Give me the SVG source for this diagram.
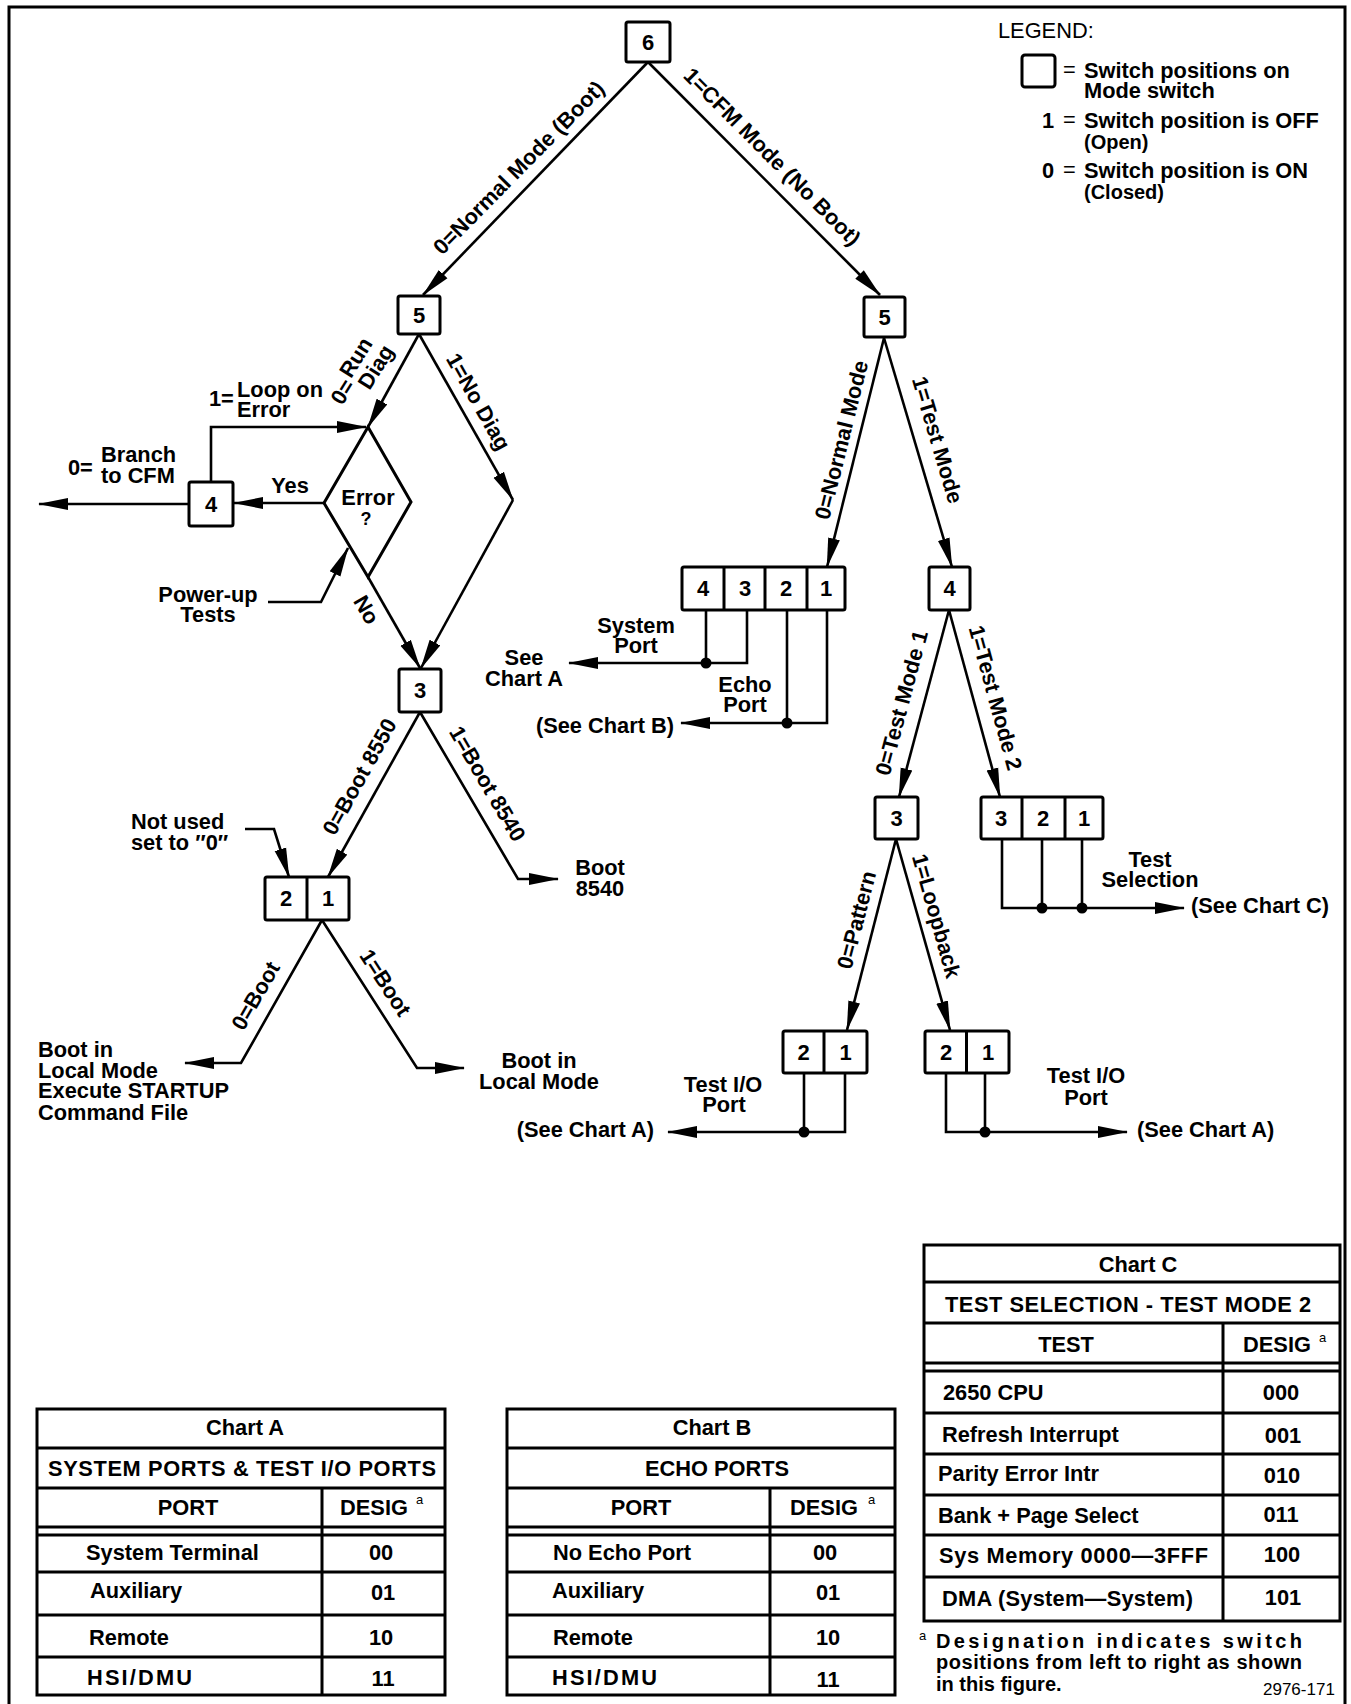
<svg xmlns="http://www.w3.org/2000/svg" width="1351" height="1704" viewBox="0 0 1351 1704">
<defs>
<style>
.ln{stroke:#000;stroke-width:2.6;fill:none}
.bx{fill:#fff;stroke:#000;stroke-width:3}
.tl{stroke:#000;stroke-width:3;fill:none}
.t{font-family:"Liberation Sans",Arial,Helvetica,sans-serif;font-weight:bold;font-size:21.8px;fill:#000}
.r{font-weight:normal}
.m{text-anchor:middle}
.e{text-anchor:end}
.num{font-size:22px;text-anchor:middle}
.sup{font-size:13px;font-weight:normal}
</style>
<marker id="ah" markerUnits="userSpaceOnUse" markerWidth="30" markerHeight="13" viewBox="0 0 30 13" refX="29" refY="6.5" orient="auto">
<path d="M0,0.5 L30,6.5 L0,12.5 z" fill="#000"/>
</marker>
</defs>
<rect width="1351" height="1704" fill="#fff"/>
<path id="frame" d="M9,1704 V7 H1345 V1704" class="tl"/>

<g id="connectors">
<line class="ln" x1="648" y1="62" x2="423" y2="295" marker-end="url(#ah)"/>
<line class="ln" x1="648" y1="62" x2="880" y2="295" marker-end="url(#ah)"/>
<line class="ln" x1="419" y1="334" x2="368" y2="427" marker-end="url(#ah)"/>
<line class="ln" x1="419" y1="334" x2="513" y2="500" marker-end="url(#ah)"/>
<line class="ln" x1="513" y1="500" x2="421" y2="668" marker-end="url(#ah)"/>
<line class="ln" x1="368" y1="577" x2="420" y2="668" marker-end="url(#ah)"/>
<line class="ln" x1="324" y1="503" x2="234" y2="503" marker-end="url(#ah)"/>
<line class="ln" x1="189" y1="504" x2="39" y2="504" marker-end="url(#ah)"/>
<polyline class="ln" points="211,482 211,427 366,427" marker-end="url(#ah)"/>
<polyline class="ln" points="268,602 321,602 348,548" marker-end="url(#ah)"/>
<line class="ln" x1="420" y1="712" x2="328" y2="877" marker-end="url(#ah)"/>
<polyline class="ln" points="420,712 518,879 558,879" marker-end="url(#ah)"/>
<polyline class="ln" points="245,829 274,829 289,877" marker-end="url(#ah)"/>
<polyline class="ln" points="322,920 241,1063 185,1063" marker-end="url(#ah)"/>
<polyline class="ln" points="322,920 417,1068 464,1068" marker-end="url(#ah)"/>
<line class="ln" x1="884" y1="338" x2="827" y2="567" marker-end="url(#ah)"/>
<line class="ln" x1="884" y1="338" x2="952" y2="567" marker-end="url(#ah)"/>
<line class="ln" x1="706" y1="610" x2="706" y2="663"/>
<polyline class="ln" points="747,610 747,663 569,663" marker-end="url(#ah)"/>
<circle cx="706" cy="663" r="5.5"/>
<line class="ln" x1="787" y1="610" x2="787" y2="723"/>
<polyline class="ln" points="827,610 827,723 681,723" marker-end="url(#ah)"/>
<circle cx="787" cy="723" r="5.5"/>
<line class="ln" x1="949" y1="610" x2="899" y2="797" marker-end="url(#ah)"/>
<line class="ln" x1="949" y1="610" x2="1000" y2="797" marker-end="url(#ah)"/>
<polyline class="ln" points="1002,839 1002,908 1184,908" marker-end="url(#ah)"/>
<line class="ln" x1="1042" y1="839" x2="1042" y2="908"/>
<line class="ln" x1="1082" y1="839" x2="1082" y2="908"/>
<circle cx="1042" cy="908" r="5.5"/>
<circle cx="1082" cy="908" r="5.5"/>
<line class="ln" x1="896" y1="839" x2="847" y2="1030" marker-end="url(#ah)"/>
<line class="ln" x1="896" y1="839" x2="950" y2="1030" marker-end="url(#ah)"/>
<line class="ln" x1="804" y1="1073" x2="804" y2="1132"/>
<polyline class="ln" points="845,1073 845,1132 668,1132" marker-end="url(#ah)"/>
<circle cx="804" cy="1132" r="5.5"/>
<polyline class="ln" points="946,1073 946,1132 1127,1132" marker-end="url(#ah)"/>
<line class="ln" x1="985" y1="1073" x2="985" y2="1132"/>
<circle cx="985" cy="1132" r="5.5"/>
</g>

<g id="edge-labels" class="t">
<text class="m" transform="translate(519,168) rotate(-45.4)" y="7">0=Normal Mode (Boot)</text>
<text class="m" transform="translate(772,157) rotate(45.2)" y="7">1=CFM Mode (No Boot)</text>
<g transform="translate(343,392) rotate(-58)">
<text class="m" y="7">0=</text>
<text x="15" y="0">Run</text>
<text x="15" y="22">Diag</text>
</g>
<text class="m" transform="translate(478,402) rotate(60.5)" y="7">1=No Diag</text>
<text class="m" transform="translate(366,610) rotate(60)" y="7">No</text>
<text class="m" transform="translate(360,777) rotate(-61)" y="7">0=Boot 8550</text>
<text class="m" transform="translate(487,784) rotate(59.7)" y="7">1=Boot 8540</text>
<text class="m" transform="translate(256,996) rotate(-60)" y="7">0=Boot</text>
<text class="m" transform="translate(385,983) rotate(57)" y="7">1=Boot</text>
<text class="m" transform="translate(842,440) rotate(-76)" y="7">0=Normal Mode</text>
<text class="m" transform="translate(937,440) rotate(73.5)" y="7">1=Test Mode</text>
<text class="m" transform="translate(902,703) rotate(-75)" y="7">0=Test Mode 1</text>
<text class="m" transform="translate(995,698) rotate(74.7)" y="7">1=Test Mode 2</text>
<text class="m" transform="translate(857,920) rotate(-75.6)" y="7">0=Pattern</text>
<text class="m" transform="translate(936,916) rotate(74.2)" y="7">1=Loopback</text>
<text class="m" x="290" y="493">Yes</text>
<text x="209" y="406">1=</text>
<text x="237" y="397">Loop on</text>
<text x="237" y="417">Error</text>
<text x="68" y="475">0=</text>
<text x="101" y="462">Branch</text>
<text x="101" y="483">to CFM</text>
</g>

<g id="node-6"><rect class="bx" x="626" y="22" width="44" height="40" rx="2"/><text class="t num" x="648" y="50">6</text></g>
<g id="node-5-left"><rect class="bx" x="398" y="296" width="42" height="38" rx="2"/><text class="t num" x="419" y="323">5</text></g>
<g id="node-5-right"><rect class="bx" x="864" y="297" width="41" height="40" rx="2"/><text class="t num" x="884.5" y="325">5</text></g>
<g id="node-error">
<polygon class="bx" points="368,427 411,502 368,577 324,503"/>
<text class="t m" x="368" y="505">Error</text>
<text class="t m" x="366" y="525" style="font-size:18px">?</text>
</g>
<g id="node-4-left"><rect class="bx" x="189" y="482" width="44" height="44" rx="2"/><text class="t num" x="211" y="512">4</text></g>
<g id="node-3-left"><rect class="bx" x="399" y="669" width="42" height="43" rx="2"/><text class="t num" x="420" y="698">3</text></g>
<g id="node-2-1-left">
<rect class="bx" x="265" y="877" width="84" height="43" rx="2"/>
<line class="tl" x1="307" y1="877" x2="307" y2="920"/>
<text class="t num" x="286" y="906">2</text><text class="t num" x="328" y="906">1</text>
</g>
<g id="node-4321">
<rect class="bx" x="682" y="567" width="163" height="43" rx="2"/>
<line class="tl" x1="724" y1="567" x2="724" y2="610"/>
<line class="tl" x1="765" y1="567" x2="765" y2="610"/>
<line class="tl" x1="807" y1="567" x2="807" y2="610"/>
<text class="t num" x="703" y="596">4</text><text class="t num" x="745" y="596">3</text>
<text class="t num" x="786" y="596">2</text><text class="t num" x="826" y="596">1</text>
</g>
<g id="node-4-right"><rect class="bx" x="929" y="567" width="41" height="43" rx="2"/><text class="t num" x="949.5" y="596">4</text></g>
<g id="node-3-right"><rect class="bx" x="875" y="797" width="43" height="42" rx="2"/><text class="t num" x="896.5" y="826">3</text></g>
<g id="node-321">
<rect class="bx" x="981" y="797" width="122" height="42" rx="2"/>
<line class="tl" x1="1022" y1="797" x2="1022" y2="839"/>
<line class="tl" x1="1065" y1="797" x2="1065" y2="839"/>
<text class="t num" x="1001" y="826">3</text><text class="t num" x="1043" y="826">2</text><text class="t num" x="1084" y="826">1</text>
</g>
<g id="node-2-1-pattern">
<rect class="bx" x="783" y="1031" width="84" height="42" rx="2"/>
<line class="tl" x1="824" y1="1031" x2="824" y2="1073"/>
<text class="t num" x="803.5" y="1060">2</text><text class="t num" x="845.5" y="1060">1</text>
</g>
<g id="node-2-1-loopback">
<rect class="bx" x="925" y="1031" width="84" height="42" rx="2"/>
<line class="tl" x1="966.5" y1="1031" x2="966.5" y2="1073"/>
<text class="t num" x="946" y="1060">2</text><text class="t num" x="988" y="1060">1</text>
</g>

<g id="notes" class="t">
<text class="m" x="208" y="602">Power-up</text>
<text class="m" x="208" y="622">Tests</text>
<text x="131" y="829">Not used</text>
<text x="131" y="850">set to ″0″</text>
<text class="m" x="600" y="875">Boot</text>
<text class="m" x="600" y="896">8540</text>
<text x="38" y="1057">Boot in</text>
<text x="38" y="1078">Local Mode</text>
<text x="38" y="1098">Execute STARTUP</text>
<text x="38" y="1120">Command File</text>
<text class="m" x="539" y="1068">Boot in</text>
<text class="m" x="539" y="1089">Local Mode</text>
<text class="m" x="636" y="633">System</text>
<text class="m" x="636" y="653">Port</text>
<text class="m" x="524" y="665">See</text>
<text class="m" x="524" y="686">Chart A</text>
<text class="m" x="745" y="692">Echo</text>
<text class="m" x="745" y="712">Port</text>
<text class="e" x="674" y="733">(See Chart B)</text>
<text class="m" x="1150" y="867">Test</text>
<text class="m" x="1150" y="887">Selection</text>
<text x="1191" y="913">(See Chart C)</text>
<text class="m" x="723" y="1092">Test I/O</text>
<text class="m" x="724" y="1112">Port</text>
<text class="e" x="654" y="1137">(See Chart A)</text>
<text class="m" x="1086" y="1083">Test I/O</text>
<text class="m" x="1086" y="1105">Port</text>
<text x="1137" y="1137">(See Chart A)</text>
</g>

<g id="legend" class="t">
<text class="r" x="998" y="38">LEGEND:</text>
<rect class="bx" x="1022" y="55" width="33" height="32" rx="3"/>
<text class="r" x="1063" y="77">=</text>
<text x="1084" y="78">Switch positions on</text>
<text x="1084" y="98">Mode switch</text>
<text x="1042" y="128">1</text>
<text class="r" x="1063" y="127">=</text>
<text x="1084" y="128">Switch position is OFF</text>
<text x="1084" y="149" style="font-size:20px">(Open)</text>
<text x="1042" y="178">0</text>
<text class="r" x="1063" y="177">=</text>
<text x="1084" y="178">Switch position is ON</text>
<text x="1084" y="199" style="font-size:20px">(Closed)</text>
</g>

<g id="chart-a" class="t">
<rect class="tl" x="37" y="1409" width="408" height="286"/>
<path class="tl" d="M37,1448H445M37,1488H445M37,1527H445M37,1535H445M37,1572H445M37,1615H445M37,1657H445M322,1488V1695"/>
<text class="m" x="245" y="1435">Chart A</text>
<text class="m" x="242" y="1476" textLength="388" lengthAdjust="spacing">SYSTEM PORTS &amp; TEST I/O PORTS</text>
<text class="m" x="188" y="1515">PORT</text>
<text class="m" x="374" y="1515">DESIG</text>
<text class="sup" x="416" y="1504">a</text>
<text x="86" y="1560">System Terminal</text><text class="m" x="381" y="1560">00</text>
<text x="90" y="1598">Auxiliary</text><text class="m" x="383" y="1600">01</text>
<text x="89" y="1645">Remote</text><text class="m" x="381" y="1645">10</text>
<text x="87" y="1685" textLength="105" lengthAdjust="spacing">HSI/DMU</text><text class="m" x="383" y="1686">11</text>
</g>

<g id="chart-b" class="t">
<rect class="tl" x="507" y="1409" width="388" height="286"/>
<path class="tl" d="M507,1448H895M507,1488H895M507,1527H895M507,1535H895M507,1572H895M507,1615H895M507,1657H895M770,1488V1695"/>
<text class="m" x="712" y="1435">Chart B</text>
<text class="m" x="717" y="1476">ECHO PORTS</text>
<text class="m" x="641" y="1515">PORT</text>
<text class="m" x="824" y="1515">DESIG</text>
<text class="sup" x="868" y="1504">a</text>
<text x="553" y="1560">No Echo Port</text><text class="m" x="825" y="1560">00</text>
<text x="552" y="1598">Auxiliary</text><text class="m" x="828" y="1600">01</text>
<text x="553" y="1645">Remote</text><text class="m" x="828" y="1645">10</text>
<text x="552" y="1685" textLength="105" lengthAdjust="spacing">HSI/DMU</text><text class="m" x="828" y="1687">11</text>
</g>

<g id="chart-c" class="t">
<rect class="tl" x="924" y="1245" width="416" height="376"/>
<path class="tl" d="M924,1282H1340M924,1323H1340M924,1363H1340M924,1371H1340M924,1413H1340M924,1454H1340M924,1495H1340M924,1535H1340M924,1577H1340M1223,1323V1621"/>
<text class="m" x="1138" y="1272">Chart C</text>
<text class="m" x="1128" y="1312" textLength="366" lengthAdjust="spacing">TEST SELECTION - TEST MODE 2</text>
<text class="m" x="1066" y="1352">TEST</text>
<text class="m" x="1277" y="1352">DESIG</text>
<text class="sup" x="1319" y="1342">a</text>
<text x="943" y="1400">2650 CPU</text><text class="m" x="1281" y="1400">000</text>
<text x="942" y="1442">Refresh Interrupt</text><text class="m" x="1283" y="1443">001</text>
<text x="938" y="1481">Parity Error Intr</text><text class="m" x="1282" y="1483">010</text>
<text x="938" y="1523">Bank + Page Select</text><text class="m" x="1281" y="1522">011</text>
<text x="939" y="1563" textLength="269" lengthAdjust="spacing">Sys Memory 0000—3FFF</text><text class="m" x="1282" y="1562">100</text>
<text x="942" y="1606" textLength="251" lengthAdjust="spacing">DMA (System—System)</text><text class="m" x="1283" y="1605">101</text>
</g>

<g id="footnote" class="t">
<text class="sup" x="919" y="1640">a</text>
<text x="936" y="1648" style="font-size:20px" textLength="366" lengthAdjust="spacing">Designation indicates switch</text>
<text x="936" y="1669" style="font-size:20px" textLength="366" lengthAdjust="spacing">positions from left to right as shown</text>
<text x="936" y="1691" style="font-size:20px">in this figure.</text>
<text class="r" x="1263" y="1695" style="font-size:17px">2976-171</text>
</g>
</svg>
